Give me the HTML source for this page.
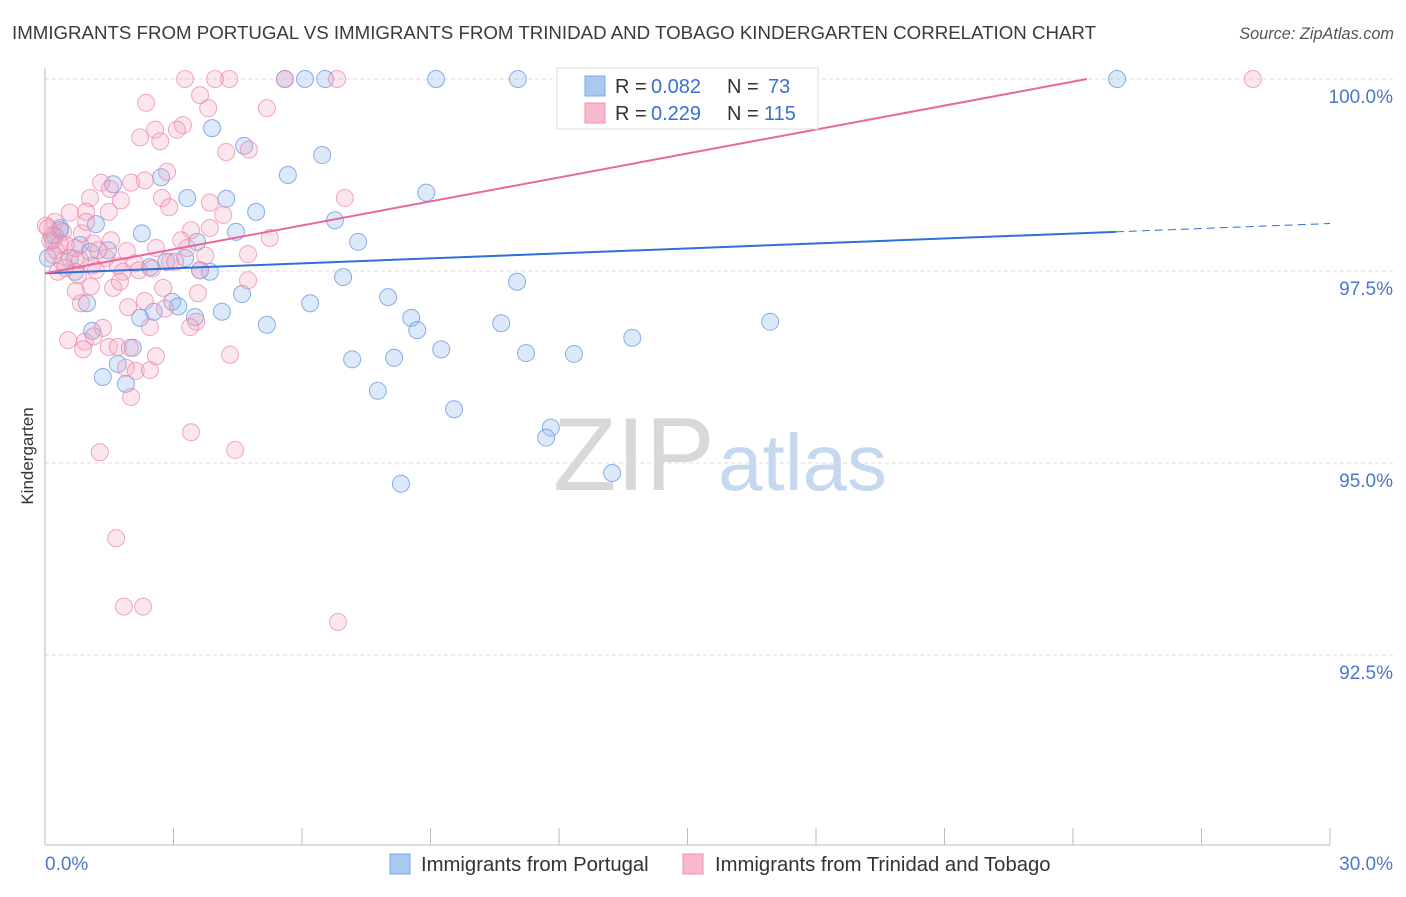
<!DOCTYPE html>
<html><head><meta charset="utf-8"><style>
body{margin:0;background:#fff;font-family:"Liberation Sans",sans-serif;}
svg text{font-family:"Liberation Sans",sans-serif;}
</style></head><body>
<svg id="chart" width="1406" height="892" xmlns="http://www.w3.org/2000/svg">
<text x="12" y="39" font-size="18.7" fill="#3a3a3a">IMMIGRANTS FROM PORTUGAL VS IMMIGRANTS FROM TRINIDAD AND TOBAGO KINDERGARTEN CORRELATION CHART</text>
<text x="1394" y="39" font-size="16.3" fill="#555" text-anchor="end" font-style="italic">Source: ZipAtlas.com</text>
<g>
<text x="553" y="490" font-size="104" fill="#d8d8d8" font-family="Liberation Serif">ZIP</text>
<text x="718" y="490" font-size="80" fill="#c5d8ef">atlas</text>
</g>
<g id="grid"></g>
<line x1="45" y1="68" x2="45" y2="845" stroke="#bbb"/>
<line x1="45" y1="845" x2="1330" y2="845" stroke="#bbb"/>
<g id="xticks"></g>
<text transform="translate(33,456) rotate(-90)" font-size="17" fill="#333" text-anchor="middle">Kindergarten</text>
<text x="45" y="870" font-size="19" fill="#4a78c8">0.0%</text>
<text x="1393" y="870" font-size="19" fill="#4a78c8" text-anchor="end">30.0%</text>
<g id="points"></g>
<g id="lines"></g>
<g>
<rect x="557" y="68" width="261" height="61" fill="#fff" stroke="#ddd"/>
<rect x="585" y="76" width="20" height="20" fill="#a9c8f2" stroke="#7da7e6"/>
<text x="615" y="93" font-size="20" fill="#333">R =</text>
<text x="651" y="93" font-size="20" fill="#3a6fd0">0.082</text>
<text x="727" y="93" font-size="20" fill="#333">N =</text>
<text x="768" y="93" font-size="20" fill="#3a6fd0">73</text>
<rect x="585" y="103" width="20" height="20" fill="#f6b9cd" stroke="#ef8fb0"/>
<text x="615" y="120" font-size="20" fill="#333">R =</text>
<text x="651" y="120" font-size="20" fill="#3a6fd0">0.229</text>
<text x="727" y="120" font-size="20" fill="#333">N =</text>
<text x="764" y="120" font-size="20" fill="#3a6fd0">115</text>
</g>
<g>
<rect x="390" y="854" width="20" height="20" fill="#a9c8f2" stroke="#7da7e6"/>
<text x="421" y="871" font-size="20.3" fill="#333">Immigrants from Portugal</text>
</g>
<g>
<rect x="683" y="854" width="20" height="20" fill="#f6b9cd" stroke="#ef8fb0"/>
<text x="715" y="871" font-size="20.3" fill="#333">Immigrants from Trinidad and Tobago</text>
</g>
</svg>
<script>
const yTicks=[100,97.5,95,92.5];
const yTickLabels=["100.0%","97.5%","95.0%","92.5%"];
const xTicks=[0,3,6,9,12,15,18,21,24,27,30];
const blueX=[5.60,6.07,6.54,9.13,11.04,13.89,16.69,25.03,3.90,4.65,6.47,5.67,1.59,2.71,3.32,4.23,4.93,6.77,8.90,1.19,2.26,4.46,7.31,3.55,0.19,0.35,0.82,1.47,2.45,2.83,3.27,3.85,0.70,6.96,11.02,4.60,6.19,8.01,0.98,2.97,2.54,3.11,2.22,3.50,4.13,5.18,8.55,8.69,10.65,16.93,1.10,2.05,9.25,7.17,8.15,11.23,12.35,13.71,1.35,1.89,7.77,9.55,11.81,11.70,13.24,8.31,0.35,0.23,1.70,3.62,0.58,1.05,0.07];
const blueY=[100,100,100,100,100,100,100,100,99.36,99.13,99.01,98.75,98.63,98.72,98.45,98.44,98.27,98.16,98.52,98.11,97.99,98.01,97.88,97.88,97.90,98.06,97.84,97.77,97.55,97.62,97.67,97.49,97.49,97.42,97.36,97.20,97.08,97.16,97.08,97.10,96.97,97.04,96.89,96.90,96.97,96.80,96.89,96.73,96.82,96.84,96.72,96.50,96.48,96.35,96.37,96.43,96.42,96.63,96.12,96.03,95.94,95.70,95.46,95.33,94.87,94.73,98.03,97.96,96.29,97.51,97.67,97.75,97.67];
const pinkX=[3.27,3.97,4.30,5.60,6.82,28.20,3.62,2.36,3.81,5.18,3.22,2.57,3.08,2.22,2.69,4.76,4.23,2.85,1.31,2.01,2.33,1.52,2.73,1.05,1.77,3.85,4.16,0.23,0.58,0.96,1.49,2.90,7.00,0.42,0.86,3.41,3.85,5.25,0.12,0.26,0.49,1.12,1.54,1.91,2.59,3.18,0.40,0.70,1.10,1.42,1.70,2.10,2.50,2.92,3.32,3.62,4.74,0.30,0.77,1.19,1.82,2.19,3.04,0.72,1.07,1.59,2.76,3.57,4.74,0.84,1.94,2.33,2.80,3.53,3.39,2.45,1.35,0.54,0.93,1.14,1.49,1.70,1.98,0.89,2.59,4.32,1.89,2.12,2.01,3.41,1.28,4.44,1.66,1.84,2.29,6.84,0.07,0.16,0.35,0.19,0.02,2.45,3.74,1.24,1.75,0.70,0.47,0.82,0.96];
const pinkY=[100,100,100,100,100,100,99.79,99.69,99.62,99.62,99.40,99.34,99.34,99.24,99.19,99.08,99.05,98.79,98.65,98.65,98.68,98.57,98.45,98.45,98.42,98.39,98.23,98.14,98.26,98.27,98.27,98.33,98.45,98.01,97.99,98.03,98.06,97.93,97.90,97.77,97.84,97.86,97.90,97.76,97.80,97.90,97.62,97.66,97.57,97.67,97.57,97.60,97.53,97.62,97.80,97.51,97.72,97.49,97.45,97.51,97.49,97.51,97.62,97.24,97.30,97.28,97.28,97.21,97.38,97.08,97.03,97.11,97.01,96.84,96.77,96.77,96.76,96.60,96.58,96.65,96.51,96.51,96.50,96.48,96.39,96.41,96.24,96.20,95.86,95.40,95.14,95.17,94.02,93.13,93.13,92.93,98.06,97.96,97.85,97.71,98.09,96.21,97.70,97.77,97.36,97.80,97.54,97.64,98.14];
const blueTrend=[97.47,0.0216];
const pinkTrend=[97.47,0.104];
const NS="http://www.w3.org/2000/svg";
const sx=v=>45+v*(1285/30);
const sy=v=>79+(100-v)*76.8;
function mk(t,a,p){const e=document.createElementNS(NS,t);for(const k in a)e.setAttribute(k,a[k]);p.appendChild(e);return e;}
const grid=document.getElementById('grid');
yTicks.forEach((t,i)=>{
 const l=mk('line',{x1:45,x2:1395,y1:sy(t),y2:sy(t),stroke:'#ddd','stroke-dasharray':'4,3'},grid);
 
 
 const tx=mk('text',{x:1393,y:sy(t)+24,'font-size':19,fill:'#4a78c8','text-anchor':'end'},grid);
 tx.textContent=yTickLabels[i];
 
 
});
const xt=document.getElementById('xticks');
xTicks.forEach(t=>{
 const l=mk('line',{x1:sx(t),x2:sx(t),y1:828,y2:845,stroke:'#bbb'},xt);
 
 
});
const pts=document.getElementById('points');
blueX.forEach((x,i)=>{
 const c=mk('circle',{cx:sx(x),cy:sy(blueY[i]),r:8.5,fill:'rgba(150,188,238,0.33)',stroke:'rgba(100,150,225,0.75)','stroke-width':1},pts);
 
 
});
pinkX.forEach((x,i)=>{
 const c=mk('circle',{cx:sx(x),cy:sy(pinkY[i]),r:8.5,fill:'rgba(245,165,195,0.28)',stroke:'rgba(235,130,170,0.7)','stroke-width':1},pts);
 
 
});
const ln=document.getElementById('lines');
const bEnd=25;
const b1=mk('line',{x1:sx(0),y1:sy(blueTrend[0]),x2:sx(bEnd),y2:sy(blueTrend[0]+blueTrend[1]*bEnd),stroke:'#2f6fd6','stroke-width':2},ln);


const b2=mk('line',{x1:sx(bEnd),y1:sy(blueTrend[0]+blueTrend[1]*bEnd),x2:sx(30),y2:sy(blueTrend[0]+blueTrend[1]*30),stroke:'#2f6fd6','stroke-width':1,'stroke-dasharray':'8,5'},ln);


const pEnd=Math.min(30,(100-pinkTrend[0])/pinkTrend[1]);
const p1=mk('line',{x1:sx(0),y1:sy(pinkTrend[0]),x2:sx(pEnd),y2:sy(pinkTrend[0]+pinkTrend[1]*pEnd),stroke:'#e8689a','stroke-width':2},ln);


</script>
</body></html>
